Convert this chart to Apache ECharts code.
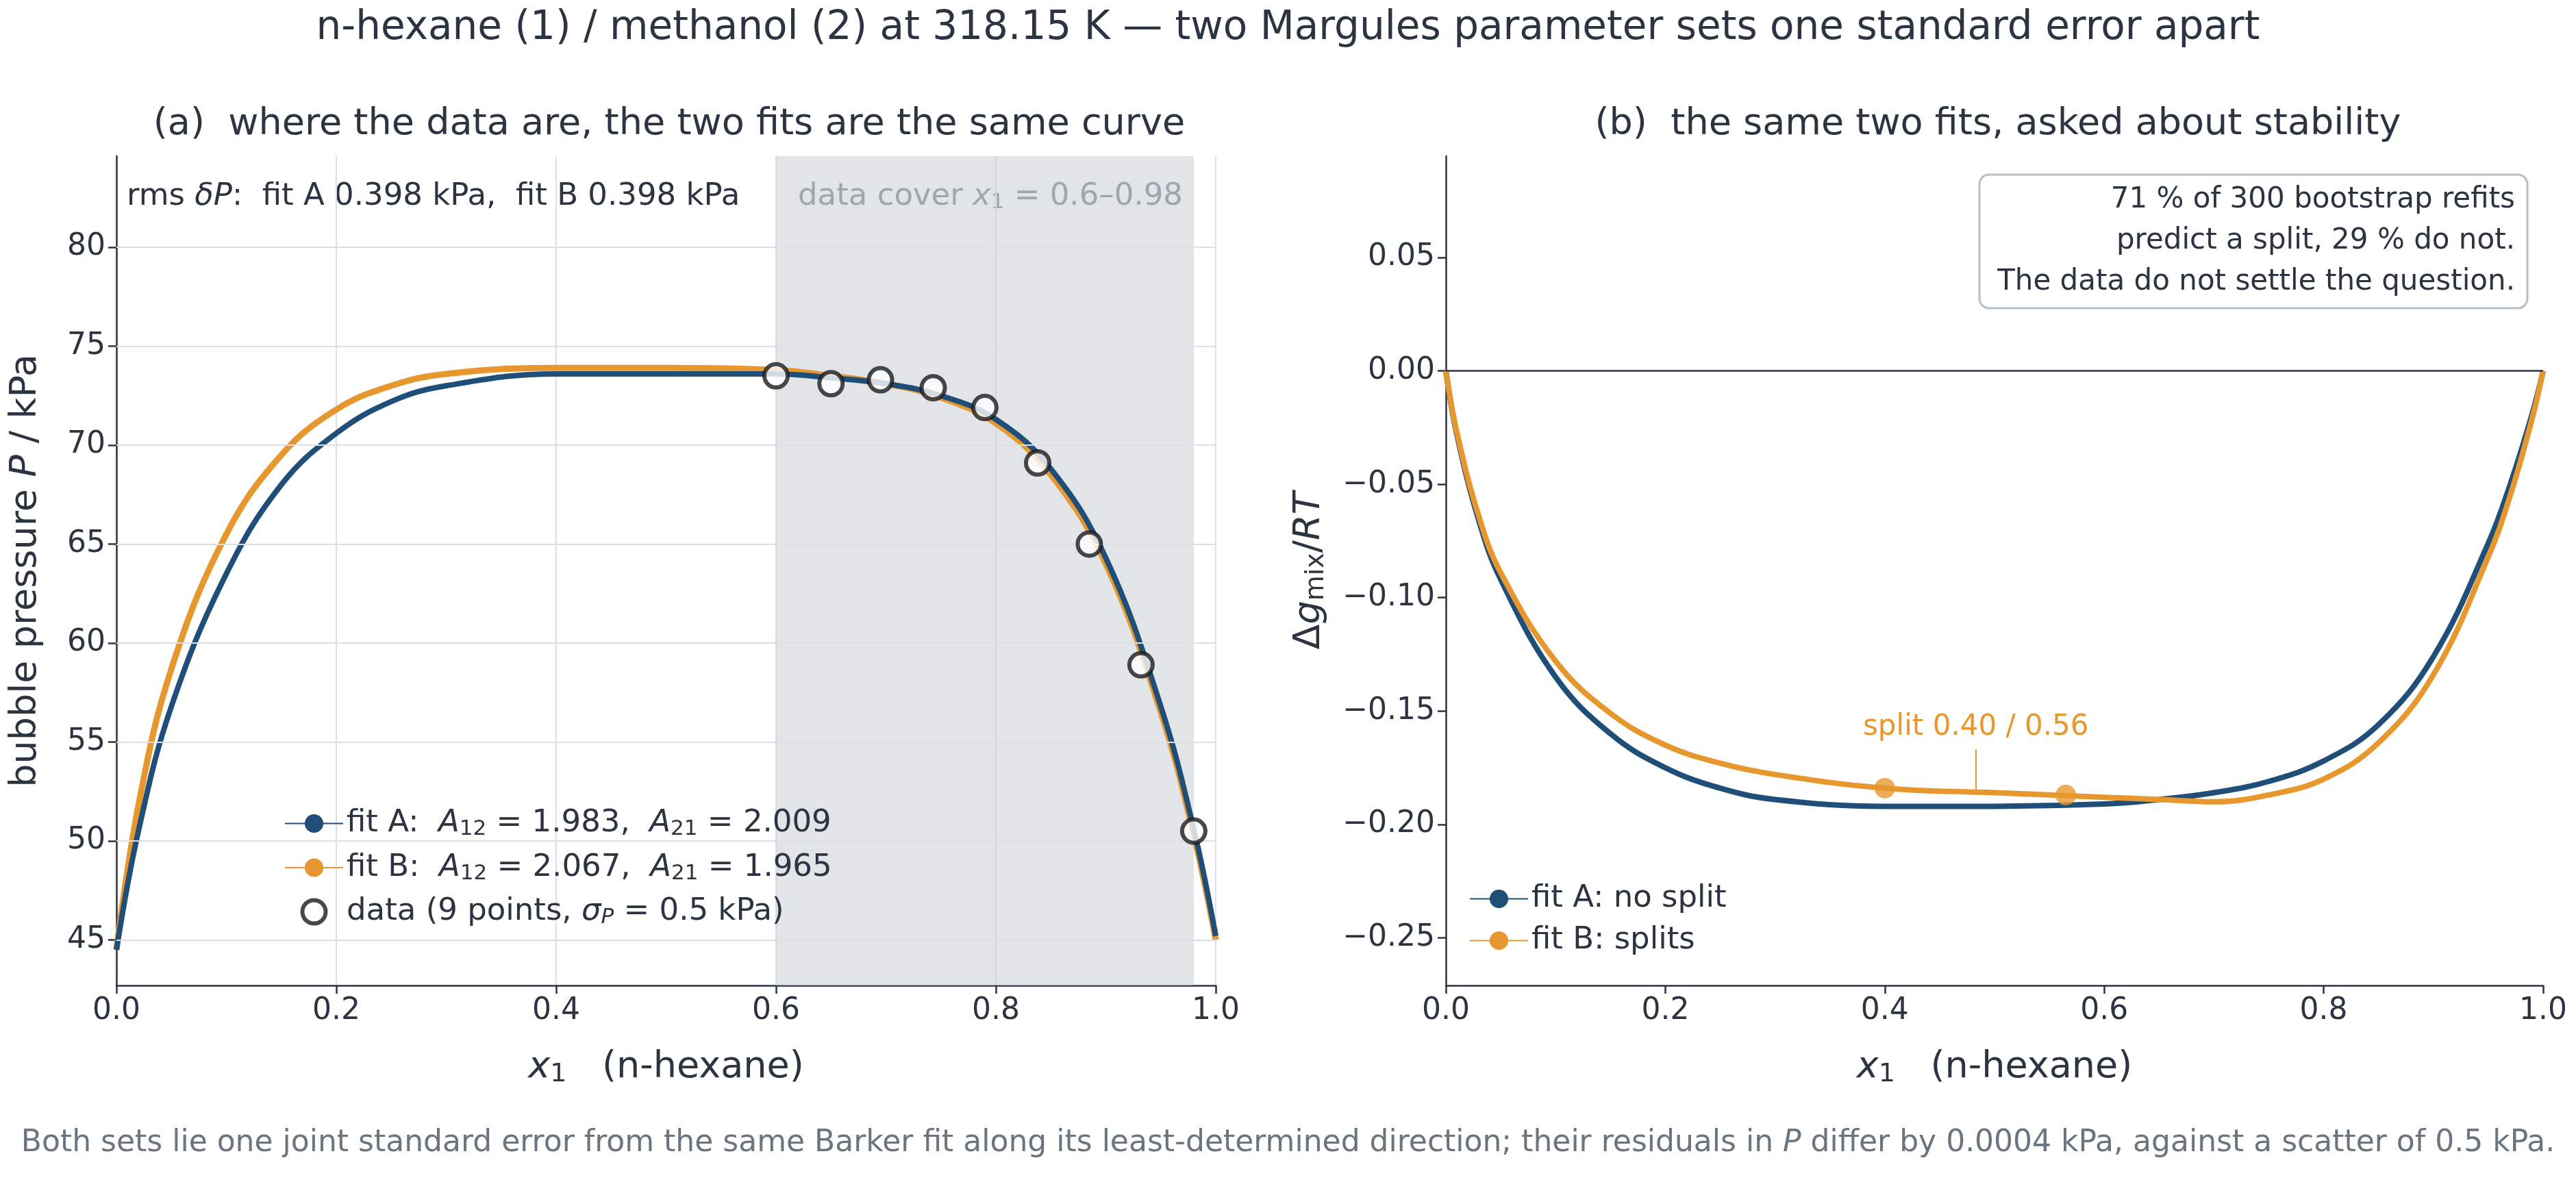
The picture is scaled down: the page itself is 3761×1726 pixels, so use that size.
<!DOCTYPE html>
<html>
<head>
<meta charset="utf-8">
<script src="https://cdn.jsdelivr.net/npm/echarts@6/dist/echarts.min.js"></script>
<style>html,body{margin:0;padding:0;background:#fff}#main{width:3761px;height:1726px}</style>
</head>
<body>
<div id="main"></div>
<script>
// panel (a): bubble pressure, kPa
const xP = [0, 0.02, 0.05, 0.1, 0.15, 0.2, 0.25, 0.3, 0.4, 0.5, 0.6, 0.65, 0.7, 0.75, 0.8, 0.85, 0.9, 0.95, 0.98, 1.0];
const pFitA = [44.5, 50.5, 56.8, 63.5, 68.0, 70.6, 72.2, 73.0, 73.6, 73.6, 73.6, 73.4, 73.1, 72.5, 71.3, 68.8, 64.3, 56.8, 50.6, 45.2];
const pFitB = [44.5, 51.8, 58.7, 65.5, 69.5, 71.8, 73.0, 73.6, 73.9, 73.9, 73.8, 73.5, 73.1, 72.4, 71.1, 68.5, 64.0, 56.5, 50.3, 45.0];
const dataX = [0.60, 0.65, 0.695, 0.743, 0.79, 0.838, 0.885, 0.932, 0.98];
const dataP = [73.5, 73.1, 73.3, 72.9, 71.9, 69.1, 65.0, 58.9, 50.5];

// panel (b): Δg_mix/RT
const xG = [0, 0.01, 0.03, 0.05, 0.1, 0.15, 0.2, 0.25, 0.3, 0.4, 0.5, 0.6, 0.65, 0.7, 0.75, 0.8, 0.85, 0.9, 0.95, 0.97, 0.99, 1.0];
const gFitA = [0, -0.028, -0.066, -0.092, -0.135, -0.160, -0.175, -0.184, -0.189, -0.192, -0.192, -0.191, -0.189, -0.186, -0.181, -0.172, -0.156, -0.126, -0.076, -0.050, -0.019, 0];
const gFitB = [0, -0.027, -0.064, -0.089, -0.128, -0.151, -0.165, -0.173, -0.178, -0.184, -0.186, -0.188, -0.189, -0.190, -0.187, -0.180, -0.164, -0.134, -0.082, -0.055, -0.021, 0];
const splitX = [0.40, 0.565];
const splitG = [-0.184, -0.187];

const pTicks = [45, 50, 55, 60, 65, 70, 75, 80];
const gTicks = [-0.25, -0.2, -0.15, -0.1, -0.05, 0, 0.05];

const BLUE = '#1f4e79', ORANGE = '#e6982e', INK = '#2b3440', GREY = '#6b7580';
const FONT = 'DejaVu Sans';
const zip = (a, b) => a.map((v, i) => [v, b[i]]);

function mkRich(size, color) {
    const sub = Math.round(size * 0.7), pad = Math.round(size * 0.38);
    return {
        t: { fontSize: size, color, fill: color, fontFamily: FONT },
        i: { fontSize: size, color, fill: color, fontFamily: FONT, fontStyle: 'italic' },
        s: { fontSize: sub, color, fill: color, fontFamily: FONT, padding: [pad, 0, 0, 0] },
        si: { fontSize: sub, color, fill: color, fontFamily: FONT, fontStyle: 'italic', padding: [pad, 0, 0, 0] }
    };
}
const rich = mkRich(45, INK);
const axRich = mkRich(54, INK);

const legendNames = {
    fitA_L: '{t|fit A:  }{i|A}{s|12}{t| = 1.983,  }{i|A}{s|21}{t| = 2.009}',
    fitB_L: '{t|fit B:  }{i|A}{s|12}{t| = 2.067,  }{i|A}{s|21}{t| = 1.965}',
    data: '{t|data (9 points, }{i|σ}{si|P}{t| = 0.5 kPa)}',
    fitA_R: '{t|fit A: no split}',
    fitB_R: '{t|fit B: splits}'
};

function axisX(gi) {
    return {
        type: 'value', gridIndex: gi, min: 0, max: 1, interval: 0.2,
        name: '{i|x}{s|1}{t|   (n-hexane)}', nameLocation: 'middle', nameGap: 90,
        nameTextStyle: { rich: axRich },
        axisLine: { onZero: false, lineStyle: { color: INK, width: 2.5 } },
        axisTick: { length: 12, lineStyle: { color: INK, width: 2.5 } },
        axisLabel: { fontSize: 44, color: INK, fontFamily: FONT, margin: 16, formatter: v => v.toFixed(1) },
        splitLine: { show: gi === 0, lineStyle: { color: '#dcdfe3', width: 2 } }
    };
}

const option = {
    backgroundColor: '#fff',
    animation: false,
    textStyle: { fontFamily: FONT },
    title: [
        { text: 'n-hexane (1) / methanol (2) at 318.15 K — two Margules parameter sets one standard error apart',
          left: 'center', top: 8, textStyle: { fontSize: 58, fontWeight: 'normal', color: INK, fontFamily: FONT } },
        { text: '(a)  where the data are, the two fits are the same curve', left: 972, textAlign: 'center', top: 150,
          textStyle: { fontSize: 54, fontWeight: 'normal', color: INK, fontFamily: FONT } },
        { text: '(b)  the same two fits, asked about stability', left: 2912, textAlign: 'center', top: 150,
          textStyle: { fontSize: 54, fontWeight: 'normal', color: INK, fontFamily: FONT } }
    ],
    grid: [
        { left: 170, right: 1986, top: 228, bottom: 287 },
        { left: 2111, right: 48, top: 228, bottom: 287 }
    ],
    xAxis: [axisX(0), axisX(1)],
    yAxis: [
        {
            type: 'value', gridIndex: 0, min: 42.7, max: 84.6,
            name: '{t|bubble pressure }{i|P}{t| / kPa}', nameLocation: 'middle', nameGap: 105,
            nameTextStyle: { rich: axRich },
            axisLine: { show: true, lineStyle: { color: INK, width: 2.5 } },
            axisTick: { show: true, length: 12, customValues: pTicks, lineStyle: { color: INK, width: 2.5 } },
            axisLabel: { fontSize: 44, color: INK, fontFamily: FONT, margin: 16, customValues: pTicks },
            splitLine: { show: false }
        },
        {
            type: 'value', gridIndex: 1, min: -0.271, max: 0.0947,
            name: '{t|Δ}{i|g}{s|mix}{t|/}{i|RT}', nameLocation: 'middle', nameGap: 170,
            nameTextStyle: { rich: axRich },
            axisLine: { show: true, onZero: false, lineStyle: { color: INK, width: 2.5 } },
            axisTick: { show: true, length: 12, customValues: gTicks, lineStyle: { color: INK, width: 2.5 } },
            axisLabel: { fontSize: 44, color: INK, fontFamily: FONT, margin: 16, customValues: gTicks,
                         formatter: v => v.toFixed(2).replace('-', '−') },
            splitLine: { show: false }
        }
    ],
    legend: [
        { data: ['fitA_L', 'fitB_L', { name: 'data', itemStyle: { color: '#fff', borderColor: '#1a1a1a', borderWidth: 6 } }],
          left: 410, top: 1175, orient: 'vertical', itemGap: 18,
          itemWidth: 85, itemHeight: 34, formatter: n => legendNames[n], textStyle: { rich } },
        { data: ['fitA_R', 'fitB_R'], left: 2140, top: 1285, orient: 'vertical', itemGap: 16,
          itemWidth: 85, itemHeight: 34, formatter: n => legendNames[n], textStyle: { rich } }
    ],
    graphic: [
        { type: 'text', left: 185, top: 265, style: { rich, text: '{t|rms }{i|δP}{t|:  fit A 0.398 kPa,  fit B 0.398 kPa}' } },
        { type: 'text', left: 1165, top: 265, style: {
            rich: mkRich(45, GREY), text: '{t|data cover }{i|x}{s|1}{t| = 0.6–0.98}' } },
        { type: 'rect', shape: { x: 2890, y: 255, width: 800, height: 195, r: 14 },
          style: { fill: '#fff', stroke: '#b8bec5', lineWidth: 3 } },
        { type: 'text', x: 3672, y: 262, style: {
            text: '71 % of 300 bootstrap refits\npredict a split, 29 % do not.\nThe data do not settle the question.',
            align: 'right', fontSize: 42, lineHeight: 60, fill: INK, fontFamily: FONT } },
        { type: 'text', left: 'center', top: 1648, style: {
            rich: mkRich(44, GREY),
            text: '{t|Both sets lie one joint standard error from the same Barker fit along its least-determined direction; their residuals in }{i|P}{t| differ by 0.0004 kPa, against a scatter of 0.5 kPa.}' } }
    ],
    series: [
        {
            name: 'gridlines', type: 'line', xAxisIndex: 0, yAxisIndex: 0, data: [], silent: true,
            markLine: { symbol: 'none', silent: true, label: { show: false },
                        lineStyle: { color: '#dcdfe3', width: 2, type: 'solid' },
                        data: pTicks.map(v => ({ yAxis: v })) },
            markArea: { silent: true, itemStyle: { color: 'rgba(200,207,214,0.55)' },
                        data: [[{ xAxis: 0.6 }, { xAxis: 0.98 }]] }
        },
        { name: 'fitB_L', type: 'line', xAxisIndex: 0, yAxisIndex: 0, data: zip(xP, pFitB), smooth: 0.4,
          symbol: 'none', lineStyle: { color: ORANGE, width: 9 }, itemStyle: { color: ORANGE } },
        { name: 'fitA_L', type: 'line', xAxisIndex: 0, yAxisIndex: 0, data: zip(xP, pFitA), smooth: 0.4,
          symbol: 'none', lineStyle: { color: BLUE, width: 8 }, itemStyle: { color: BLUE } },
        { name: 'data', type: 'scatter', xAxisIndex: 0, yAxisIndex: 0, data: zip(dataX, dataP), symbolSize: 34,
          itemStyle: { color: '#fff', borderColor: '#1a1a1a', borderWidth: 6 }, z: 5 },
        {
            name: 'zero', type: 'line', xAxisIndex: 1, yAxisIndex: 1, data: [], silent: true,
            markLine: { symbol: 'none', silent: true, label: { show: false },
                        lineStyle: { color: INK, width: 2.5, type: 'solid' }, data: [{ yAxis: 0 }] }
        },
        { name: 'fitA_R', type: 'line', xAxisIndex: 1, yAxisIndex: 1, data: zip(xG, gFitA), smooth: 0.4,
          symbol: 'none', lineStyle: { color: BLUE, width: 8 }, itemStyle: { color: BLUE } },
        { name: 'fitB_R', type: 'line', xAxisIndex: 1, yAxisIndex: 1, data: zip(xG, gFitB), smooth: 0.4,
          symbol: 'none', lineStyle: { color: ORANGE, width: 8 }, itemStyle: { color: ORANGE } },
        {
            name: 'split', type: 'scatter', xAxisIndex: 1, yAxisIndex: 1, data: zip(splitX, splitG), symbolSize: 30,
            itemStyle: { color: ORANGE }, z: 5,
            markLine: { symbol: 'none', silent: true, lineStyle: { color: ORANGE, width: 2, type: 'solid' },
                        label: { show: true, position: 'end', formatter: 'split 0.40 / 0.56', color: ORANGE,
                                 fontSize: 42, fontFamily: FONT, distance: 12 },
                        data: [[{ coord: [0.483, -0.185] }, { coord: [0.483, -0.167] }]] }
        }
    ]
};

const chart = echarts.init(document.getElementById('main'));
chart.setOption(option);
</script>
</body>
</html>
